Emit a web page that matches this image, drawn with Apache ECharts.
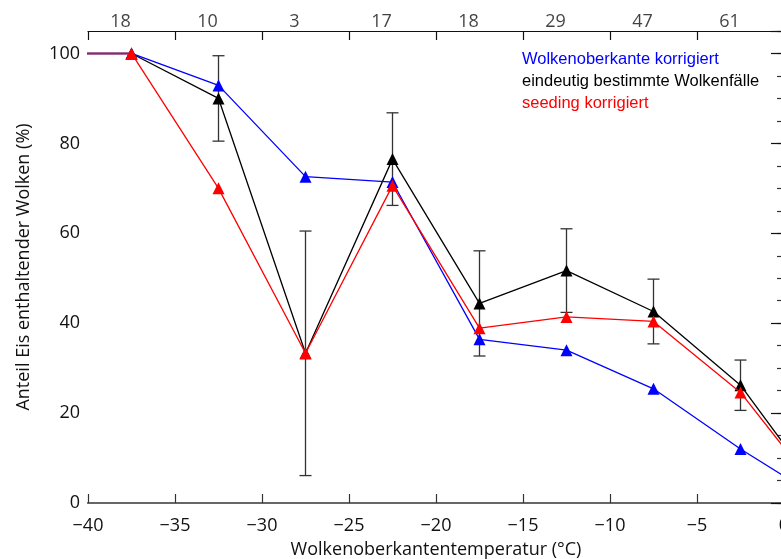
<!DOCTYPE html>
<html>
<head>
<meta charset="utf-8">
<script src="https://cdn.jsdelivr.net/npm/echarts@6/dist/echarts.min.js"></script>
<style>
html,body{margin:0;padding:0;background:#fff;}
#c{width:781px;height:559px;}
</style>
</head>
<body>
<div id="c"></div>
<script>
// Temperature bin centres (°C)
var temps = [-42.5, -37.5, -32.5, -27.5, -22.5, -17.5, -12.5, -7.5, -2.5, 2.5];
// Wolkenoberkante korrigiert (blue)
var blueVals = [100, 100, 92.9, 72.6, 71.4, 36.4, 34.0, 25.4, 12.0, 0];
// eindeutig bestimmte Wolkenfälle (black)
var blackVals = [100, 100, 90.0, 33.3, 76.5, 44.4, 51.7, 42.6, 26.2, 0];
// error (±) for black series
var blackErr = [null, null, 9.5, 27.2, 10.3, 11.7, 9.3, 7.2, 5.6, null];
// seeding korrigiert (red)
var redVals = [100, 100, 70.0, 33.3, 70.6, 38.9, 41.4, 40.4, 24.6, 0];
// number of cases per bin (top strip)
var countBins = [-37.5, -32.5, -27.5, -22.5, -17.5, -12.5, -7.5, -2.5];
var counts = [18, 10, 3, 17, 18, 29, 47, 61];

var names = ['Wolkenoberkante korrigiert', 'eindeutig bestimmte Wolkenfälle', 'seeding korrigiert'];
var FONT = 'Open Sans';

function pairs(vals){ return temps.map(function(t,i){ return [t, vals[i]]; }); }
var errData = [];
temps.forEach(function(t,i){
  if (blackErr[i] != null) errData.push([t, blackVals[i]-blackErr[i], blackVals[i]+blackErr[i]]);
});

var chart = echarts.init(document.getElementById('c'));
var axisCol = '#333';
function minus(v){ return String(v).replace('-', '\u2212'); }

chart.setOption({
  animation: false,
  grid: [
    {left: 88, top: 31, width: 696, height: 472, containLabel: false, outerBoundsMode: 'none'},
    {left: 88, top: 8, width: 696, height: 23, containLabel: false, outerBoundsMode: 'none'}
  ],
  xAxis: [
    {gridIndex: 0, type: 'value', min: -40, max: 0, interval: 5, position: 'bottom',
     axisLine: {show: true, lineStyle: {color: axisCol, width: 1.5}},
     axisTick: {show: true, inside: true, length: 9, lineStyle: {color: axisCol, width: 1.2}},
     axisLabel: {formatter: minus, fontFamily: FONT, fontSize: 18, color: '#111', margin: 14},
     splitLine: {show: false},
     name: 'Wolkenoberkantentemperatur (°C)', nameLocation: 'middle', nameGap: 38,
     nameTextStyle: {fontFamily: FONT, fontSize: 18, color: '#111'}},
    {gridIndex: 0, type: 'value', min: -40, max: 0, position: 'top',
     axisLine: {show: true, lineStyle: {color: '#666', width: 2}},
     axisTick: {show: false}, axisLabel: {show: false}, splitLine: {show: false}},
    {gridIndex: 1, type: 'value', min: -40, max: 0, interval: 5, position: 'top',
     axisLine: {show: true, lineStyle: {color: '#111', width: 1.2}},
     axisTick: {show: true, inside: true, length: 9, lineStyle: {color: '#111', width: 1.2}},
     axisLabel: {show: false}, splitLine: {show: false}}
  ],
  yAxis: [
    {gridIndex: 0, type: 'value', min: 0, max: 105, interval: 5, position: 'left',
     axisLine: {show: true, lineStyle: {color: '#111', width: 1.3}},
     axisTick: {show: true, inside: true, length: 7, lineStyle: {color: axisCol, width: 1.2}},
     axisLabel: {show: false}, splitLine: {show: false}},
    {gridIndex: 0, type: 'value', min: 0, max: 105, interval: 20, position: 'left',
     axisLine: {show: false},
     axisTick: {show: true, inside: true, length: 13, lineStyle: {color: '#111', width: 1.2}},
     axisLabel: {formatter: function(v){ return v > 100 ? '' : v; }, fontFamily: FONT, fontSize: 18, color: '#111', margin: 8},
     splitLine: {show: false},
     name: 'Anteil Eis enthaltender Wolken (%)', nameLocation: 'middle', nameGap: 55, nameRotate: 90,
     nameTextStyle: {fontFamily: FONT, fontSize: 18, color: '#111'}},
    {gridIndex: 0, type: 'value', min: 0, max: 105, interval: 5, position: 'right',
     axisLine: {show: true, lineStyle: {color: '#111', width: 1.3}},
     axisTick: {show: true, inside: true, length: 7, lineStyle: {color: axisCol, width: 1.2}},
     axisLabel: {show: false}, splitLine: {show: false}},
    {gridIndex: 0, type: 'value', min: 0, max: 105, interval: 20, position: 'right',
     axisLine: {show: false},
     axisTick: {show: true, inside: true, length: 13, lineStyle: {color: '#111', width: 1.2}},
     axisLabel: {show: false}, splitLine: {show: false}},
    {gridIndex: 1, type: 'value', min: 0, max: 1, position: 'left',
     axisLine: {show: true, lineStyle: {color: '#111', width: 1.3}},
     axisTick: {show: false}, axisLabel: {show: false}, splitLine: {show: false}}
  ],
  legend: {
    orient: 'vertical', left: 512, top: 44, itemWidth: 0, itemHeight: 20, itemGap: 2,
    selectedMode: false,
    textStyle: {fontFamily: 'Liberation Sans', fontSize: 16.5, lineHeight: 20},
    data: [
      {name: names[0], icon: 'none', textStyle: {color: '#0000ff'}},
      {name: names[1], icon: 'none', textStyle: {color: '#000000'}},
      {name: names[2], icon: 'none', textStyle: {color: '#ff0000'}}
    ]
  },
  series: [
    {type: 'custom', name: 'err', xAxisIndex: 0, yAxisIndex: 0, clip: true, z: 1,
     data: errData,
     renderItem: function(params, api){
       var x = api.value(0), lo = api.value(1), hi = api.value(2);
       var pLo = api.coord([x, lo]), pHi = api.coord([x, hi]);
       var hw = 6;
       var st = {stroke: '#333', lineWidth: 1.3};
       return {type: 'group', children: [
         {type: 'line', shape: {x1: pLo[0], y1: pLo[1], x2: pHi[0], y2: pHi[1]}, style: st},
         {type: 'line', shape: {x1: pLo[0]-hw, y1: pLo[1], x2: pLo[0]+hw, y2: pLo[1]}, style: st},
         {type: 'line', shape: {x1: pHi[0]-hw, y1: pHi[1], x2: pHi[0]+hw, y2: pHi[1]}, style: st}
       ]};
     }},
    {type: 'line', name: names[1], xAxisIndex: 0, yAxisIndex: 0, data: pairs(blackVals), z: 2,
     symbol: 'triangle', symbolSize: 12, showAllSymbol: true, clip: true,
     lineStyle: {color: '#000', width: 1.3}, itemStyle: {color: '#000'}, color: '#000'},
    {type: 'line', name: names[0], xAxisIndex: 0, yAxisIndex: 0, data: pairs(blueVals), z: 3,
     symbol: 'triangle', symbolSize: 12, showAllSymbol: true, clip: true,
     lineStyle: {color: '#0000ff', width: 1.3}, itemStyle: {color: '#0000ff'}, color: '#0000ff'},
    {type: 'line', name: names[2], xAxisIndex: 0, yAxisIndex: 0, data: pairs(redVals), z: 4,
     symbol: 'triangle', symbolSize: 12, showAllSymbol: true, clip: true,
     lineStyle: {color: '#ff0000', width: 1.3}, itemStyle: {color: '#ff0000'}, color: '#ff0000'},
    {type: 'scatter', name: 'counts', xAxisIndex: 2, yAxisIndex: 4, symbolSize: 0, silent: true,
     data: countBins.map(function(t,i){ return [t, 0.5, counts[i]]; }),
     label: {show: true, position: 'inside', offset: [-11, 2],
       formatter: function(p){ return p.value[2]; },
       fontFamily: FONT, fontSize: 18, color: '#111'}}
  ]
});
</script>
</body>
</html>
